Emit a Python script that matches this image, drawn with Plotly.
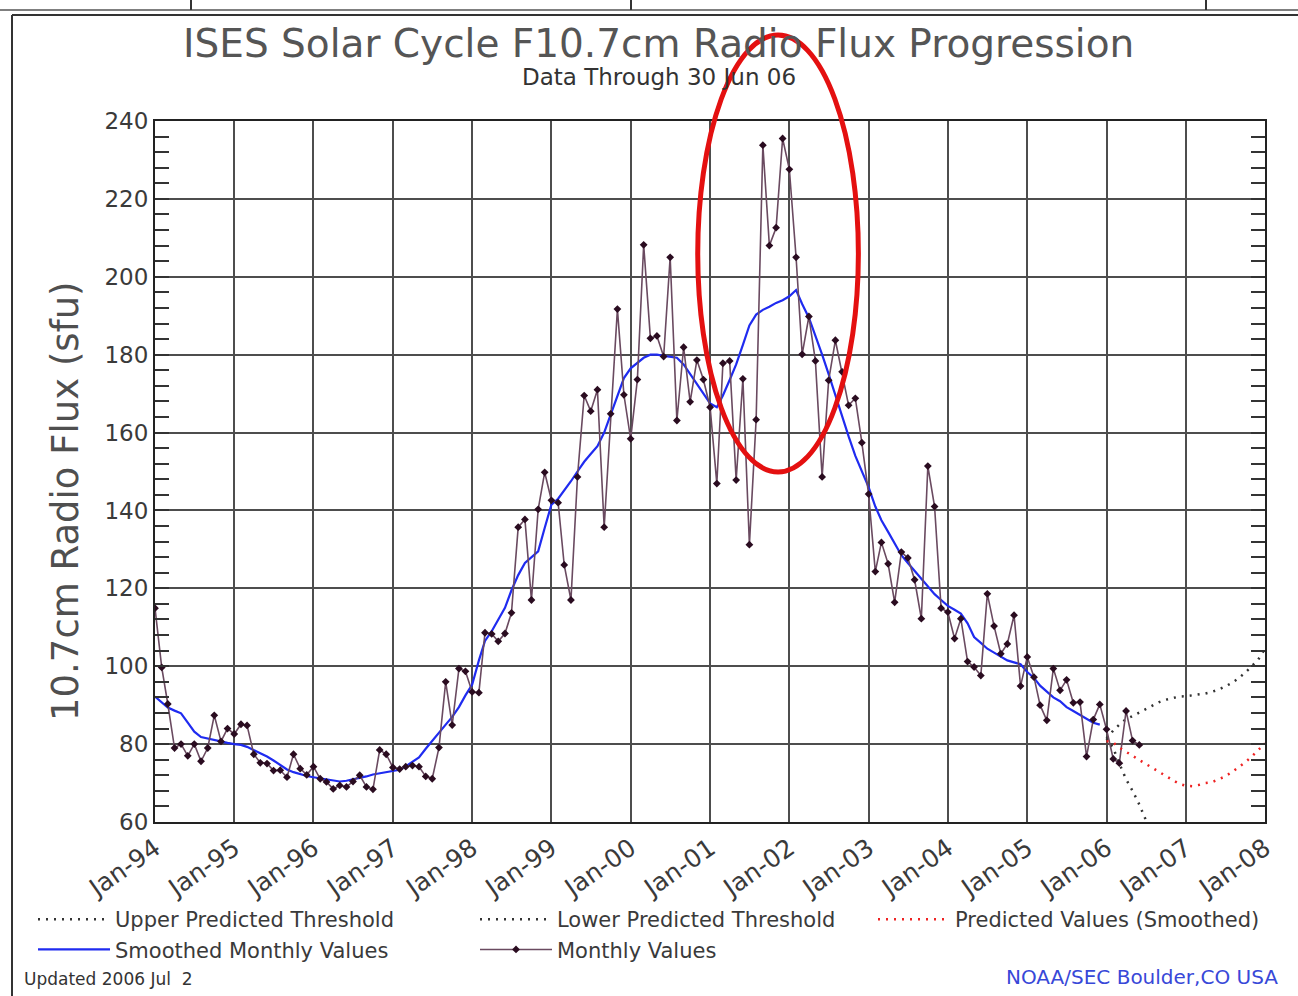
import pandas as pd
import plotly.graph_objects as go

# ---- data -----------------------------------------------------------------
months = pd.date_range("1994-01-01", "2006-06-01", freq="MS")

monthly_values = [
    # 1994
    114.9, 99.7, 90.3, 79.0, 80.0, 77.0, 80.0, 75.6, 79.0, 87.4, 80.7, 84.0,
    # 1995
    82.6, 85.1, 84.8, 77.4, 75.2, 75.0, 73.2, 73.3, 71.5, 77.4, 73.7, 72.1,
    # 1996
    74.2, 71.1, 70.3, 68.5, 69.4, 69.0, 70.4, 72.0, 69.0, 68.4, 78.5, 77.4,
    # 1997
    74.0, 73.6, 74.2, 74.5, 74.2, 71.7, 71.1, 79.1, 96.0, 84.9, 99.4, 98.7,
    # 1998
    93.4, 93.2, 108.6, 108.3, 106.4, 108.4, 113.7, 135.7, 137.7, 117.0, 140.3, 149.8,
    # 1999
    142.6, 142.0, 126.0, 117.0, 148.6, 169.5, 165.5, 171.0, 135.7, 164.8, 191.7, 169.7,
    # 2000
    158.4, 173.6, 208.2, 184.2, 184.8, 179.5, 205.0, 163.1, 181.9, 167.9, 178.6, 173.6,
    # 2001
    166.5, 146.9, 177.8, 178.4, 147.8, 173.8, 131.2, 163.3, 233.8, 208.0, 212.6, 235.5,
    # 2002
    227.6, 205.0, 180.1, 189.8, 178.4, 148.6, 173.4, 183.7, 175.6, 167.0, 168.8, 157.4,
    # 2003
    144.2, 124.3, 131.8, 126.3, 116.4, 129.3, 127.8, 122.2, 112.2, 151.4, 141.0, 114.9,
    # 2004
    113.9, 107.1, 112.2, 101.2, 99.8, 97.6, 118.6, 110.3, 103.2, 105.7, 113.1, 94.9,
    # 2005
    102.4, 97.2, 90.0, 86.1, 99.4, 93.8, 96.5, 90.6, 90.8, 76.8, 86.3, 90.2,
    # 2006
    83.8, 76.2, 75.1, 88.5, 80.9, 79.8,
]

smoothed_months = pd.date_range("1994-01-01", "2005-12-01", freq="MS")
smoothed_values = [
    # 1994
    92.2, 90.8, 89.4, 88.6, 87.9, 85.5, 83.2, 81.8, 81.4, 81.0, 80.5, 80.3,
    # 1995
    80.0, 79.8, 79.3, 78.5, 77.6, 76.8, 75.8, 74.6, 73.5, 72.8, 72.2, 71.8,
    # 1996
    71.5, 71.2, 70.9, 70.5, 70.4, 70.6, 70.9, 71.3, 71.7, 72.2, 72.5, 72.8,
    # 1997
    73.2, 73.4, 74.3, 75.4, 76.6, 78.8, 80.9, 83.0, 85.0, 87.0, 89.5, 92.5,
    # 1998
    95.3, 101.5, 106.5, 109.0, 112.0, 115.0, 119.5, 123.4, 126.5, 128.0, 129.5, 135.5,
    # 1999
    141.5, 143.0, 145.0, 147.5, 150.0, 152.5, 154.5, 156.5, 160.0, 164.5, 169.5, 174.0,
    # 2000
    176.5, 178.0, 179.2, 180.0, 180.0, 179.7, 179.5, 179.2, 177.5, 175.0, 172.5, 170.0,
    # 2001
    167.5, 166.5, 169.5, 173.5, 177.5, 182.5, 187.5, 190.3, 191.5, 192.3, 193.3, 194.0,
    # 2002
    195.0, 196.6, 193.0, 189.5, 185.0, 180.0, 175.0, 169.5, 164.0, 159.0, 154.0, 150.0,
    # 2003
    146.0, 141.0, 137.5, 134.5, 131.5, 128.5, 126.5, 124.5, 122.5, 120.5, 118.5, 117.0,
    # 2004
    115.5, 114.5, 113.5, 111.0, 107.5, 106.0, 104.5, 103.5, 102.5, 101.5, 101.0, 100.5,
    # 2005
    98.5, 97.0, 95.0, 93.5, 92.0, 91.0, 89.5, 88.5, 87.5, 86.5, 85.5, 85.0,
]

pred_months = pd.date_range("2006-01-01", "2008-01-01", freq="MS")
predicted_smoothed = [
    80.8, 80.4, 79.1, 78.1, 77.0, 75.9, 74.9, 73.8, 72.8, 71.7, 70.6, 69.8,
    69.3, 69.2, 69.5, 70.0, 70.2, 70.9, 71.7, 72.8, 74.0, 75.3, 76.8, 78.5, 80.2,
]
upper_threshold = [
    81.5, 83.5, 85.0, 86.4, 87.2, 88.1, 88.9, 89.9, 90.8, 91.4, 91.9, 92.2,
    92.3, 92.5, 92.8, 93.0, 93.4, 94.0, 94.8, 95.7, 96.9, 98.3, 100.0, 101.7, 104.5,
]
lower_months = pd.date_range("2006-01-01", "2006-07-01", freq="MS")
lower_threshold = [81.5, 79.0, 75.0, 71.0, 68.0, 64.5, 60.5]

year_ticks = pd.date_range("1994-01-01", "2008-01-01", freq="YS")

# ---- geometry helpers (pixel -> paper) -------------------------------------
W, H = 1298, 996
L, R, T, B = 155, 33, 121, 174
PW, PH = W - L - R, H - T - B


def xp(px):
    return (px - L) / PW


def yp(py):
    return (H - B - py) / PH


FONT = "DejaVu Sans"
TXT = "#3a3a3a"
GRID = "#4d4d4d"
DOT = "2px,6px"

fig = go.Figure()

fig.add_trace(go.Scatter(
    x=pred_months, y=upper_threshold, mode="lines",
    line=dict(color="#333333", width=2.5, dash=DOT),
    name="Upper Predicted Threshold", legend="legend", legendrank=1,
))
fig.add_trace(go.Scatter(
    x=smoothed_months, y=smoothed_values, mode="lines",
    line=dict(color="#1f2bf0", width=2.2),
    name="Smoothed Monthly Values", legend="legend", legendrank=2,
))
fig.add_trace(go.Scatter(
    x=lower_months, y=lower_threshold, mode="lines",
    line=dict(color="#333333", width=2.5, dash=DOT),
    name="Lower Predicted Threshold", legend="legend2", legendrank=1,
))
fig.add_trace(go.Scatter(
    x=months, y=monthly_values, mode="lines+markers",
    line=dict(color="#6a4a60", width=1.6),
    marker=dict(symbol="diamond", size=6, color="#2a0c20"),
    name="Monthly Values", legend="legend2", legendrank=2,
))
fig.add_trace(go.Scatter(
    x=pred_months, y=predicted_smoothed, mode="lines",
    line=dict(color="#ee2222", width=2.5, dash=DOT),
    name="Predicted Values (Smoothed)", legend="legend3",
))

# ---- highlight ellipse around the 2001-2002 peak ---------------------------
fig.add_shape(
    type="circle", xref="x", yref="paper",
    x0="2000-11-05", x1="2002-11-15", y0=yp(472), y1=yp(35),
    line=dict(color="#e41010", width=5), layer="above",
)

# ---- page frame --------------------------------------------------------------
frame = dict(color="#333333", width=2)
fig.add_shape(type="line", xref="paper", yref="paper",
              x0=xp(12), x1=xp(W), y0=yp(15), y1=yp(15), line=frame)
fig.add_shape(type="line", xref="paper", yref="paper",
              x0=xp(12), x1=xp(12), y0=yp(15), y1=yp(H), line=frame)
fig.add_shape(type="line", xref="paper", yref="paper",
              x0=xp(0), x1=xp(W), y0=yp(10), y1=yp(10), line=dict(color="#555555", width=1.5))
for px in (191, 631, 1206):
    fig.add_shape(type="line", xref="paper", yref="paper",
                  x0=xp(px), x1=xp(px), y0=yp(0), y1=yp(10), line=frame)

# ---- texts -----------------------------------------------------------------
def label(text, px, py, size, color, xanchor="center", angle=0):
    fig.add_annotation(text=text, xref="paper", yref="paper",
                       x=xp(px), y=yp(py), xanchor=xanchor, yanchor="middle",
                       textangle=angle, showarrow=False,
                       font=dict(family=FONT, size=size, color=color))


label("ISES Solar Cycle F10.7cm Radio Flux Progression", 658, 44, 39, "#555555")
label("Data Through 30 Jun 06", 659, 77, 23, "#333333")
label("10.7cm Radio Flux (sfu)", 65, 501, 37, "#4f4f4f", angle=-90)
label("Updated 2006 Jul  2", 22, 979, 17, "#333333", xanchor="left")
label("NOAA/SEC Boulder,CO USA", 1280, 977, 20, "#3848d8", xanchor="right")

legend_common = dict(
    orientation="v", xanchor="left", yanchor="top",
    font=dict(family=FONT, size=21, color=TXT),
    bgcolor="rgba(0,0,0,0)", itemwidth=72, tracegroupgap=0,
)

fig.update_layout(
    width=W, height=H,
    margin=dict(l=L, r=R, t=T, b=B),
    paper_bgcolor="white", plot_bgcolor="white",
    showlegend=True,
    legend=dict(x=xp(33), y=yp(899), **legend_common),
    legend2=dict(x=xp(475), y=yp(899), **legend_common),
    legend3=dict(x=xp(873), y=yp(899), **legend_common),
    xaxis=dict(
        range=["1994-01-01", "2008-01-01"],
        tickvals=year_ticks, tickformat="%b-%y", tickangle=-35,
        showgrid=True, gridcolor=GRID, gridwidth=2,
        showline=True, linecolor="#222222", linewidth=2, mirror=True,
        ticks="", tickfont=dict(family=FONT, size=25, color=TXT),
        zeroline=False,
    ),
    yaxis=dict(
        range=[60, 240], dtick=20, tick0=60,
        showgrid=True, gridcolor=GRID, gridwidth=2,
        showline=True, linecolor="#222222", linewidth=2, mirror="allticks",
        ticks="inside", ticklen=14, tickwidth=1.5, tickcolor="#333333",
        minor=dict(dtick=4, ticks="inside", ticklen=14, tickwidth=1.5,
                   tickcolor="#333333", showgrid=False),
        tickfont=dict(family=FONT, size=23, color=TXT),
        zeroline=False,
    ),
)

fig.write_html("out.html")
